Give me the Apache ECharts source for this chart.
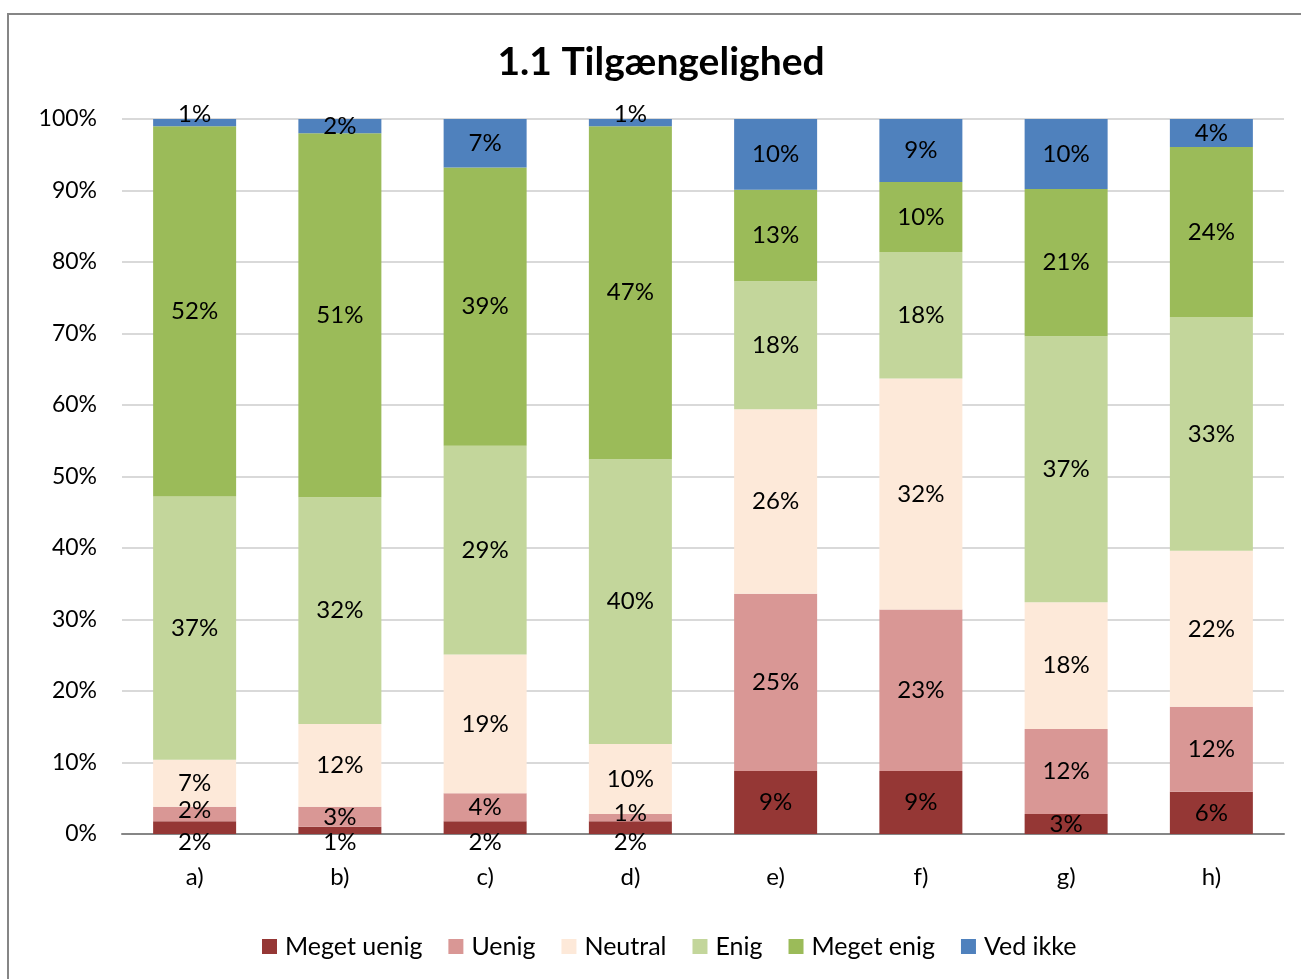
<!DOCTYPE html>
<html>
<head>
<meta charset="utf-8">
<script src="https://cdn.jsdelivr.net/npm/echarts@6/dist/echarts.min.js"></script>
<style>
  html, body { margin: 0; padding: 0; background: #fff; }
  #chart { width: 1301px; height: 979px; }
</style>
</head>
<body>
<div id="chart"></div>
<script>
const categories = ['a)', 'b)', 'c)', 'd)', 'e)', 'f)', 'g)', 'h)'];

// andele i procent, læst af figuren
const megetUenig = [1.8, 1.0, 1.8, 1.8, 8.8, 8.8, 2.8, 5.9];
const uenig      = [2.0, 2.8, 3.9, 1.0, 24.8, 22.6, 11.9, 11.9];
const neutral    = [6.6, 11.6, 19.4, 9.8, 25.8, 32.3, 17.7, 21.8];
const enig       = [36.8, 31.7, 29.2, 39.8, 17.9, 17.7, 37.2, 32.7];
const megetEnig  = [51.8, 50.9, 38.9, 46.6, 12.8, 9.8, 20.6, 23.8];
const vedIkke    = [1.0, 2.0, 6.8, 1.0, 9.9, 8.8, 9.8, 3.9];

const yTicks = [0, 10, 20, 30, 40, 50, 60, 70, 80, 90, 100];

const FONT = 'Lato, "Noto Sans", sans-serif';

function serie(name, values, color, labelFor) {
  return {
    name: name,
    type: 'bar',
    stack: 'total',
    barWidth: 83,
    itemStyle: { color: color },
    data: values.map(v => {
      const item = { value: v };
      if (labelFor) {
        const l = labelFor(v);
        if (l) item.label = l;
      }
      return item;
    }),
    label: {
      show: true,
      position: 'inside',
      color: '#000',
      fontFamily: FONT,
      fontSize: 24,
      formatter: p => Math.round(p.value) + '%'
    }
  };
}

const chart = echarts.init(document.getElementById('chart'));
chart.setOption({
  animation: false,
  textStyle: { fontFamily: FONT },
  title: {
    text: '1.1 Tilgængelighed',
    left: 656,
    top: 38,
    textAlign: 'center',
    textStyle: { fontFamily: FONT, fontSize: 39, fontWeight: 'bold', color: '#000' }
  },
  graphic: [{
    type: 'rect',
    shape: { x: 8, y: 14, width: 1320, height: 1000 },
    style: { fill: 'none', stroke: '#868686', lineWidth: 2 },
    silent: true
  }],
  legend: {
    bottom: 15,
    left: 257,
    itemWidth: 15,
    itemHeight: 15,
    itemGap: 26,
    icon: 'rect',
    textStyle: { fontFamily: FONT, fontSize: 25, color: '#000', padding: [0, 0, 0, 3] }
  },
  grid: { left: 122, right: 17, top: 119, bottom: 145 },
  xAxis: {
    type: 'category',
    data: categories,
    axisLine: { lineStyle: { color: '#868686', width: 2 } },
    axisTick: { show: false },
    axisLabel: { color: '#000', fontSize: 24, fontFamily: FONT, margin: 31 }
  },
  yAxis: {
    type: 'value',
    min: 0,
    max: 100,
    interval: 10,
    axisLine: { show: false },
    axisTick: { show: false },
    splitLine: { lineStyle: { color: '#d9d9d9', width: 2 } },
    axisLabel: {
      color: '#000',
      fontSize: 23,
      fontFamily: FONT,
      margin: 25,
      formatter: v => yTicks.includes(v) ? v + '%' : ''
    }
  },
  series: [
    serie('Meget uenig', megetUenig, '#953735',
      v => v < 2.5 ? { position: 'bottom', distance: -4 } : null),
    serie('Uenig', uenig, '#d99795',
      v => v < 2.5 ? { offset: [0, -4] } : null),
    serie('Neutral', neutral, '#fde9d9'),
    serie('Enig', enig, '#c3d69b'),
    serie('Meget enig', megetEnig, '#9bbb59'),
    serie('Ved ikke', vedIkke, '#4f81bd',
      v => v < 1.5 ? { position: 'top', distance: -7 } : null)
  ]
});
</script>
</body>
</html>
